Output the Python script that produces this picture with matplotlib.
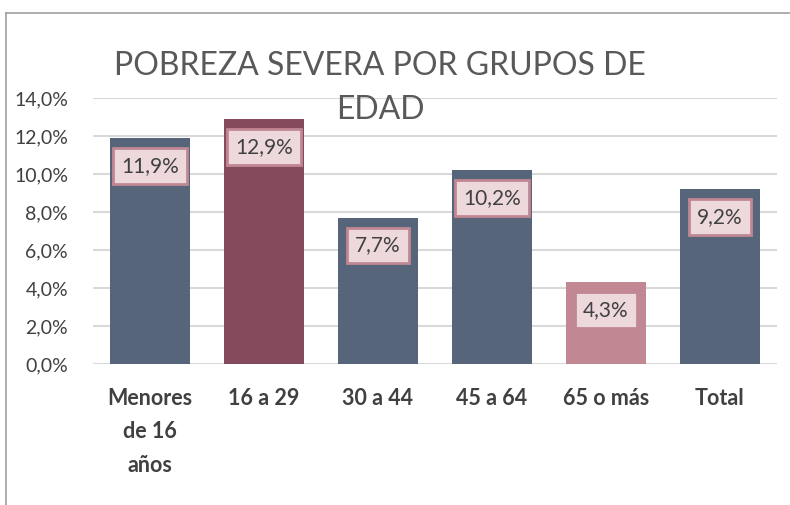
import matplotlib
matplotlib.use('Agg')
import matplotlib.pyplot as plt
from matplotlib.lines import Line2D
import numpy as np

categorias = ['Menores\nde 16\naños', '16 a 29', '30 a 44', '45 a 64', '65 o más', 'Total']
valores = [11.9, 12.9, 7.7, 10.2, 4.3, 9.2]
etiquetas = ['11,9%', '12,9%', '7,7%', '10,2%', '4,3%', '9,2%']
yticks = [0, 2, 4, 6, 8, 10, 12, 14]
ytick_labels = ['0,0%', '2,0%', '4,0%', '6,0%', '8,0%', '10,0%', '12,0%', '14,0%']

slate = '#57657A'
maroon = '#854A5B'
pink = '#C18894'
colores = [slate, maroon, slate, slate, pink, slate]

plt.rcParams['font.family'] = ['Lato', 'DejaVu Sans']

W, H = 790, 505
fig = plt.figure(figsize=(W/100, H/100), dpi=100)
ax = fig.add_axes([93/W, 1-364/H, (777-93)/W, (364-98)/H])

x = np.arange(len(categorias))
ax.bar(x, valores, width=0.7, color=colores, zorder=2)
ax.set_xlim(-0.5, len(categorias)-0.5)
ax.set_ylim(0, 14)
ax.set_yticks(yticks)
ax.set_yticklabels(ytick_labels, fontsize=14, color='#404040')
ax.set_xticks(x)
ax.set_xticklabels(categorias, fontsize=15.5, fontweight='bold', color='#404040',
                   linespacing=1.75, va='top')
ax.tick_params(axis='both', length=0)
ax.tick_params(axis='x', pad=17)
ax.tick_params(axis='y', pad=18)
ax.grid(axis='y', color='#D9D9D9', linewidth=1.5, zorder=0)
for s in ax.spines.values():
    s.set_visible(False)

for xi, v, t in zip(x, valores, etiquetas):
    ax.annotate(t, (xi, v), xytext=(0, -20), textcoords='offset points',
                ha='center', va='center', fontsize=15, color='#404040', zorder=3,
                bbox=dict(boxstyle='square,pad=0.38', fc='#EDD8DC', ec=pink, lw=2))

fig.text(380/W, 1-88/H, 'POBREZA SEVERA POR GRUPOS DE\nEDAD', ha='center', va='center',
         fontsize=23, color='#595959', linespacing=1.62)

# marco del gráfico
fig.add_artist(Line2D([6/W, 6/W], [0, 1-13/H], color='#A0A0A0', lw=1.2))
fig.add_artist(Line2D([6/W, 1], [1-13/H, 1-13/H], color='#A0A0A0', lw=1.2))

plt.savefig('out.png', dpi=100)
